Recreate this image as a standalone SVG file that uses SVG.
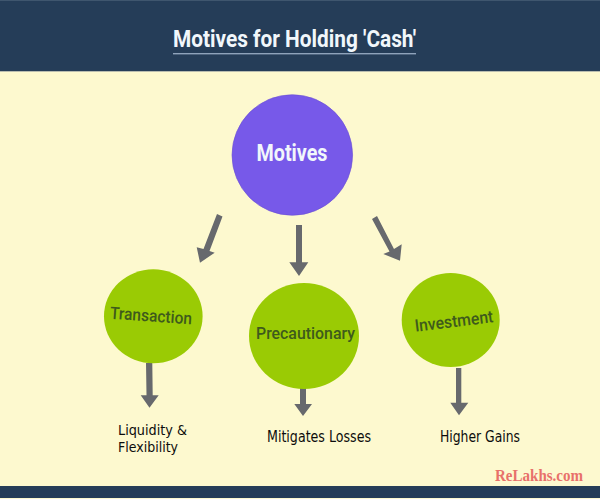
<svg xmlns="http://www.w3.org/2000/svg" width="600" height="499" viewBox="0 0 600 499">
<style>
.band{fill:#253d58}
.head{font-family:Roboto,sans-serif;font-weight:700;fill:#f1f7fb}
.green{fill:#9acb04}
.lab{font-family:Roboto,sans-serif;font-weight:500;font-size:17px;fill:#3e5a1c}
.note{font-family:"DejaVu Sans",sans-serif;font-stretch:condensed;font-size:15px;fill:#0c0c0c}
.arrow{fill:#67696d}
</style>
<rect width="600" height="499" fill="#fdf9cf"/>
<rect class="band" width="600" height="71"/>
<rect y="0" width="600" height="1" fill="#3f566e"/>
<rect y="71" width="600" height="1" fill="#b9bdb0"/>
<rect class="band" y="486" width="600" height="12"/>
<g id="title">
<text class="head" x="173" y="46.500" font-size="24" textLength="243" lengthAdjust="spacingAndGlyphs">Motives for Holding 'Cash'</text>
<rect x="173" y="53" width="243" height="1.400" fill="#8fa3bb"/>
</g>
<g id="connectors">
<polygon class="arrow" points="217,214 222.500,216.500 209.500,251 214.700,252.700 200,262.700 196.700,247.300 203.500,249"/>
<polygon class="arrow" points="296,225 302,225 302,262.300 308.300,262.300 299,276 289.300,262.300 296,262.300"/>
<polygon class="arrow" points="372,219 377,216 394,249 401.700,244.300 400,260.700 383.300,254 389.500,251.500"/>
<polygon class="arrow" points="146,363 152.300,363 152.700,395.300 158.700,395.300 149.500,407.700 140.700,395.300 146.500,395.300"/>
<polygon class="arrow" points="300,388 306,388 306,404 312,404 303,416 294.300,404 300,404"/>
<polygon class="arrow" points="456,368 461.300,368 461.300,402.700 468.300,402.700 459,415.300 450.300,402.700 456,402.700"/>
</g>
<g id="node-motives">
<circle cx="292.300" cy="155" r="60.300" fill="#7759e9" stroke="#6a4fd4" stroke-width="0.600"/>
<text class="head" x="256.500" y="160.500" font-size="24" textLength="71" lengthAdjust="spacingAndGlyphs">Motives</text>
</g>
<g id="node-transaction">
<ellipse class="green" cx="153.300" cy="316.300" rx="49.300" ry="47"/>
<text class="lab" x="151" y="321.500" text-anchor="middle" transform="rotate(4 151 316)" textLength="82" lengthAdjust="spacingAndGlyphs">Transaction</text>
</g>
<g id="node-precautionary">
<ellipse class="green" cx="304" cy="336" rx="55" ry="53"/>
<text class="lab" x="305.500" y="339.300" text-anchor="middle" textLength="99" lengthAdjust="spacingAndGlyphs">Precautionary</text>
</g>
<g id="node-investment">
<ellipse class="green" cx="450.700" cy="320" rx="49" ry="47"/>
<text class="lab" x="454" y="327" text-anchor="middle" transform="rotate(-7 454 322)" textLength="79" lengthAdjust="spacingAndGlyphs">Investment</text>
</g>
<g id="note-liquidity">
<text class="note" x="118" y="434.500" font-size="14.500" style="font-size:14.500px" textLength="69" lengthAdjust="spacingAndGlyphs">Liquidity &amp;</text>
<text class="note" x="118" y="452" style="font-size:14.500px" textLength="60" lengthAdjust="spacingAndGlyphs">Flexibility</text>
</g>
<g id="note-mitigates"><text class="note" x="267" y="442" textLength="104" lengthAdjust="spacingAndGlyphs">Mitigates Losses</text></g>
<g id="note-gains"><text class="note" x="440" y="442" textLength="80" lengthAdjust="spacingAndGlyphs">Higher Gains</text></g>
<text id="wordmark" x="495" y="481" font-family="'Liberation Serif',serif" font-weight="700" font-size="16" fill="#e8706a" textLength="88" lengthAdjust="spacingAndGlyphs">ReLakhs.com</text>
</svg>
